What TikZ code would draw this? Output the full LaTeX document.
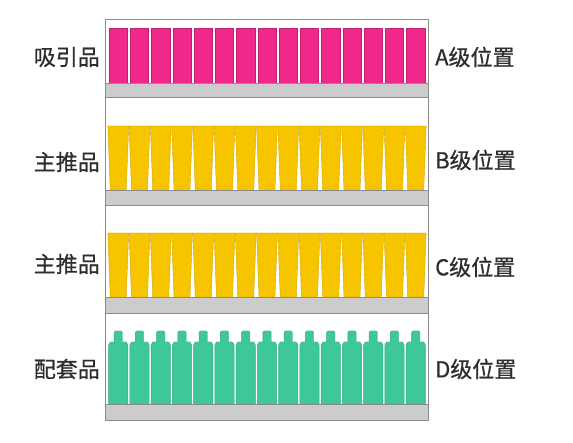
\documentclass[tikz,border=0pt]{standalone}
\usepackage{fontspec}
\newfontfamily\cjk[FakeBold=0.7]{Noto Sans CJK SC}
\begin{document}
\begin{tikzpicture}[x=1pt,y=-1pt,
  lbl/.style={font=\cjk\fontsize{22}{24}\selectfont, text=black!82, inner sep=0pt},
  band/.style={fill=black!20, draw=black!45, line width=0.9pt},
  frame/.style={draw=black!45, line width=1pt},
  pinkbar/.style={fill=pinkc, draw=pinkc!80!black, line width=0.4pt},
  yelbar/.style={fill=yelc, draw=yelc!85!black, line width=0.4pt},
  grnbar/.style={fill=grnc, draw=grnc!85!black, line width=0.4pt}]
\definecolor{pinkc}{HTML}{F0288C}
\definecolor{yelc}{HTML}{F6C500}
\definecolor{grnc}{HTML}{3EC898}
\useasboundingbox (0,0) rectangle (573,443);
\fill[white] (0,0) rectangle (573,443);
% shelf A
\foreach \i in {0,...,14}{
  \pgfmathsetmacro{\xa}{109+21.25*\i}
  \draw[pinkbar] (\xa,28) rectangle (\xa+18.2,83);
}
\draw[band] (105,83) rectangle (428,97);
% shelf B and C (tapered)
\foreach \yt/\yb in {126/190,233/297}{
  \foreach \i in {0,...,14}{
    \pgfmathsetmacro{\xc}{118.25+21.25*\i}
    \draw[yelbar] (\xc-10.4,\yt) -- (\xc+10.4,\yt) -- (\xc+8,\yb) -- (\xc-8,\yb) -- cycle;
  }
}
\draw[band] (105,190) rectangle (428,205);
\draw[band] (105,297) rectangle (428,313);
% shelf D bottles
\foreach \i in {0,...,14}{
  \pgfmathsetmacro{\xc}{118.25+21.25*\i}
  \draw[grnbar] (\xc-9.6,404) -- (\xc-9.6,345) -- (\xc-8,342) -- (\xc-4.2,342) -- (\xc-4.2,332.5)
    -- (\xc-3,331) -- (\xc+3,331) -- (\xc+4.2,332.5) -- (\xc+4.2,342) -- (\xc+8,342)
    -- (\xc+9.6,345) -- (\xc+9.6,404) -- cycle;
}
\draw[band] (105,404) rectangle (428,420);
% frame
\draw[frame] (105,420) -- (105,20) -- (428,20) -- (428,420);
% labels
\node[lbl, anchor=east] (l1) at (100,57) {吸引品};
\node[lbl, anchor=east] (l2) at (100,162) {主推品};
\node[lbl, anchor=east] (l3) at (100,264) {主推品};
\node[lbl, anchor=east] (l4) at (100,369) {配套品};
\node[lbl, anchor=west] (r1) at (435,57) {A级位置};
\node[lbl, anchor=west] (r2) at (435,160) {B级位置};
\node[lbl, anchor=west] (r3) at (435,267) {C级位置};
\node[lbl, anchor=west] (r4) at (435,369) {D级位置};
\end{tikzpicture}
\end{document}
